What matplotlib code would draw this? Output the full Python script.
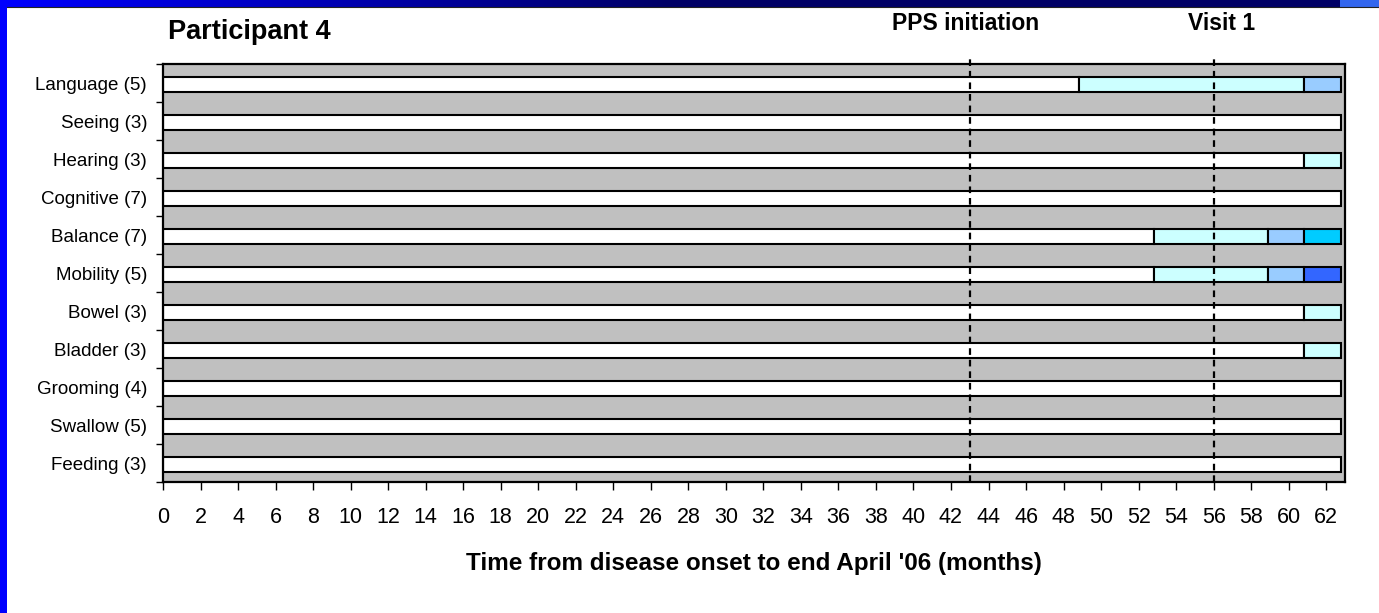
import matplotlib
matplotlib.use("Agg")
import matplotlib.pyplot as plt
import numpy as np
from matplotlib.patches import Rectangle

# ---------------- data ----------------
categories = ["Language (5)", "Seeing (3)", "Hearing (3)", "Cognitive (7)",
              "Balance (7)", "Mobility (5)", "Bowel (3)", "Bladder (3)",
              "Grooming (4)", "Swallow (5)", "Feeding (3)"]
# segment boundaries (months) and severity level of each segment
breaks = [
    [0, 48.8, 60.8, 62.8],
    [0, 62.8],
    [0, 60.8, 62.8],
    [0, 62.8],
    [0, 52.8, 58.9, 60.8, 62.8],
    [0, 52.8, 58.9, 60.8, 62.8],
    [0, 60.8, 62.8],
    [0, 60.8, 62.8],
    [0, 62.8],
    [0, 62.8],
    [0, 62.8],
]
levels = [
    [0, 1, 2],
    [0],
    [0, 1],
    [0],
    [0, 1, 2, 3],
    [0, 1, 2, 4],
    [0, 1],
    [0, 1],
    [0],
    [0],
    [0],
]
level_colors = ["#FFFFFF", "#CCFFFF", "#99CCFF", "#00CCFF", "#3366FF"]
event_months = [43, 56]
event_labels = ["PPS initiation", "Visit 1"]
x_ticks = list(range(0, 63, 2))
title = "Participant 4"
xlabel = "Time from disease onset to end April '06 (months)"

# ---------------- figure ----------------
plt.rcParams['font.family'] = ['Liberation Sans', 'DejaVu Sans']
W, H = 1379, 613
fig = plt.figure(figsize=(W / 100, H / 100), dpi=100, facecolor="white")

# blue frame (left strip + top gradient strip)
bg = fig.add_axes([0, 0, 1, 1], zorder=-10)
bg.set_xlim(0, W)
bg.set_ylim(H, 0)
bg.axis("off")
bg.add_patch(Rectangle((0, 0), 7, H, color="#0000FF", lw=0))
grad = np.linspace(0, 1, 512)
top_cols = np.zeros((1, 512, 3))
start = np.array([0, 0, 1.0])
end = np.array([0, 0, 0.4])
t = np.clip(grad / 0.5, 0, 1)[:, None]
top_cols[0] = start * (1 - t) + end * t
bg.imshow(top_cols, extent=(0, 1340, 7, 0), aspect="auto", zorder=1)
bg.add_patch(Rectangle((1340, 0), W - 1340, 7, color="#3366EE", lw=0, zorder=2))
bg.plot([7, W], [7.3, 7.3], color="#222222", lw=0.8, zorder=3)

left, right, top, bottom = 163, 1345, 64, 482
ax = fig.add_axes([left / W, 1 - bottom / H, (right - left) / W, (bottom - top) / H])
ax.set_facecolor("#C0C0C0")

n = len(categories)
y = np.arange(n)
for i in range(n):
    b = breaks[i]
    for j, lev in enumerate(levels[i]):
        ax.barh(y[i] + 0.035, b[j + 1] - b[j], left=b[j], height=0.4,
                color=level_colors[lev], edgecolor="black", linewidth=1.5, zorder=2)

ax.set_xlim(0, 63)
ax.set_ylim(n - 0.5, -0.5)

text_dx = [-0.2, 0.4]
for m, lab, dx in zip(event_months, event_labels, text_dx):
    ax.plot([m, m], [0, 1.015], transform=ax.get_xaxis_transform(), color="black",
            lw=1.6, ls=(0, (3.0, 2.2)), zorder=3, clip_on=False)
    fig.text((left + (m + dx) * (right - left) / 63) / W, 1 - 24 / H, lab,
             ha="center", va="center", fontsize=16.5, fontweight="bold")

fig.text(168 / W, 1 - 32 / H, title, ha="left", va="center", fontsize=19.5,
         fontweight="bold")

ax.set_xticks(x_ticks)
ax.set_xticklabels([str(v) for v in x_ticks], fontsize=15.5)
ax.tick_params(axis="x", direction="out", length=6, width=1, pad=12)
ax.set_yticks(y)
ax.set_yticklabels(categories, fontsize=13.5)
ax.set_yticks(np.arange(n + 1) - 0.5, minor=True)
ax.tick_params(axis="y", which="major", length=0, pad=11.5)
ax.tick_params(axis="y", which="minor", length=5, width=1)
for s in ax.spines.values():
    s.set_linewidth(1.6)
ax.set_xlabel(xlabel, fontsize=17.5, fontweight="bold", labelpad=17)

fig.savefig("out.png", dpi=100, facecolor="white")
